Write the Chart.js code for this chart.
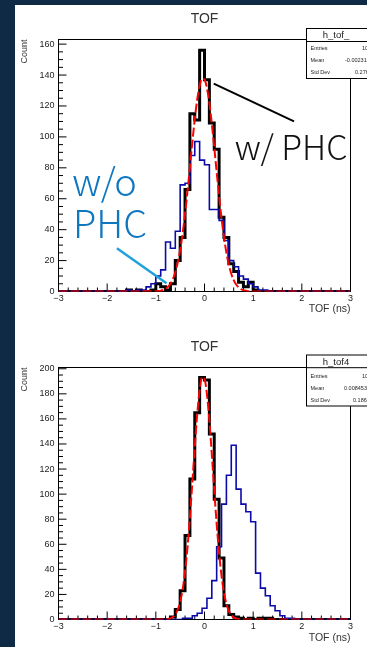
<!DOCTYPE html>
<html>
<head>
<meta charset="utf-8">
<title>TOF</title>
<script src="https://cdn.jsdelivr.net/npm/chart.js@4.4.1/dist/chart.umd.min.js"></script>
<style>
  html, body { margin: 0; padding: 0; background: #0f2a44; width: 367px; height: 647px; overflow: hidden; }
  #page { position: absolute; left: 15px; top: 5px; width: 352px; height: 642px; background: #fff; }
  canvas { position: absolute; left: 0; }
  #tofTop { top: 0; }
  #tofBottom { top: 323px; }
</style>
</head>
<body>
<div id="page"></div>
<canvas id="tofTop" width="367" height="323"></canvas>
<canvas id="tofBottom" width="367" height="324"></canvas>
<script>
// bins are 0.1 ns wide, counts start at the given left edge
const BIN_W = 0.1;

// upper pad: h_tof_
const topPhcStart = -1.6;
const topPhc = [1, 0, 1, 0, 0, 1, 5, 3, 1, 5, 20, 35, 66, 115, 111, 156, 137, 109, 92, 48, 35, 18, 13, 6, 3, 6, 1, 0];
const topRawStart = -1.6;
const topRaw = [1, 0, 1, 1, 3, 5, 10, 14, 32, 28, 39, 69, 70, 88, 97, 85, 82, 53, 53, 46, 33, 20, 16, 10, 8, 5, 3, 1, 1];
const topYLabels = [0, 20, 40, 60, 80, 100, 120, 140, 160];

// lower pad: h_tof4 (the w/o PHC histogram is shifted by half a bin)
const botPhcStart = -0.8;
const botPhc = [0, 2, 8, 23, 67, 112, 165, 193, 191, 148, 96, 49, 11, 4, 2, 1, 0, 1, 0, 1, 1, 1];
const botRawStart = -0.45;
const botRaw = [1, 1, 3, 5, 9, 17, 31, 58, 92, 115, 139, 104, 92, 86, 78, 37, 25, 19, 11, 7, 3, 1, 1];
const botYLabels = [0, 20, 40, 60, 80, 100, 120, 140, 160, 180, 200];

// gaussian fits, read every 0.05 ns from -1.0 to 1.0
const FIT_START = -1.0;
const FIT_STEP = 0.05;
const topFit = [0.13, 0.26, 0.51, 0.96, 1.7, 3.0, 5.0, 8.0, 12.5, 18.7, 26.9, 37.4, 50.1, 64.7, 80.5, 96.5, 111.4, 124.1, 133.1, 137.6,
  137.1, 131.6, 121.8, 108.6, 93.3, 77.3, 61.7, 47.4, 35.1, 25.1, 17.3, 11.5, 7.3, 4.5, 2.7, 1.5, 0.85, 0.45, 0.23, 0.11, 0.05];
const botFit = [0, 0, 0.02, 0.07, 0.17, 0.41, 0.93, 2.0, 4.1, 7.8, 14.0, 23.8, 38.0, 57.4, 81.5, 109.1, 137.5, 163.5, 183.0, 193.1,
  191.9, 179.8, 158.7, 131.9, 103.4, 76.3, 53.1, 34.8, 21.5, 12.5, 6.9, 3.6, 1.7, 0.79, 0.34, 0.14, 0.05, 0.02, 0, 0, 0];

const FONT = '"Liberation Sans", Arial, sans-serif';
const NOTE_FONT = '"Noto Sans CJK JP", "Noto Sans", sans-serif';

// outline of a histogram, flat at zero outside the listed bins
function histPoints(start, counts) {
  const pts = [{ x: -3, y: 0 }];
  counts.forEach((c, i) => pts.push({ x: start + i * BIN_W, y: c }));
  pts.push({ x: start + counts.length * BIN_W, y: 0 });
  pts.push({ x: 3, y: 0 });
  return pts;
}

function fitPoints(values) {
  const pts = [{ x: -3, y: 0 }];
  values.forEach((v, i) => pts.push({ x: FIT_START + i * FIT_STEP, y: v }));
  pts.push({ x: 3, y: 0 });
  return pts;
}

const isWhole = v => Math.abs(v - Math.round(v)) < 1e-6;

// ROOT look: frame, inward ticks, stats box and hand drawn notes
const rootPad = {
  id: 'rootPad',
  beforeDatasetsDraw(chart) {
    const { ctx, chartArea: a, scales: { x, y } } = chart;
    ctx.save();
    ctx.strokeStyle = '#000';
    ctx.lineWidth = 1;
    ctx.strokeRect(a.left, a.top, a.right - a.left, a.bottom - a.top);
    ctx.beginPath();
    x.ticks.forEach(t => {
      const px = x.getPixelForValue(t.value);
      const len = isWhole(t.value) ? 8 : 4;
      ctx.moveTo(px, a.bottom);
      ctx.lineTo(px, a.bottom - len);
    });
    y.ticks.forEach(t => {
      const py = y.getPixelForValue(t.value);
      const len = t.value % 20 ? 4.5 : 8;
      ctx.moveTo(a.left, py);
      ctx.lineTo(a.left + len, py);
    });
    ctx.stroke();
    ctx.restore();
  },
  afterDraw(chart, args, opts) {
    const { ctx, scales: { x, y } } = chart;
    const s = opts.stats;
    ctx.save();
    // stats box
    ctx.fillStyle = '#fff';
    ctx.fillRect(s.left, s.top, 80, s.bottom - s.top);
    ctx.strokeStyle = '#000';
    ctx.lineWidth = 1;
    ctx.strokeRect(s.left, s.top, 80, s.bottom - s.top);
    ctx.beginPath();
    ctx.moveTo(s.left, s.divider);
    ctx.lineTo(s.left + 80, s.divider);
    ctx.stroke();
    ctx.fillStyle = '#222';
    ctx.textBaseline = 'middle';
    ctx.textAlign = 'center';
    ctx.font = '9.5px ' + FONT;
    ctx.fillText(s.name, s.nameX, s.nameY);
    ctx.textAlign = 'left';
    ctx.font = '5.5px ' + FONT;
    s.rows.forEach(r => {
      ctx.fillText(r[0], s.left + 4, r[3]);
      ctx.fillText(r[1], r[2], r[3]);
    });
    // annotations, anchored in data coordinates
    (opts.notes || []).forEach(n => {
      if (n.text) {
        ctx.fillStyle = n.color;
        ctx.font = n.font;
        ctx.textAlign = 'left';
        ctx.textBaseline = 'alphabetic';
        ctx.fillText(n.text, x.getPixelForValue(n.at[0]), y.getPixelForValue(n.at[1]));
      } else {
        ctx.strokeStyle = n.color;
        ctx.lineWidth = n.width;
        ctx.beginPath();
        ctx.moveTo(x.getPixelForValue(n.from[0]), y.getPixelForValue(n.from[1]));
        ctx.lineTo(x.getPixelForValue(n.to[0]), y.getPixelForValue(n.to[1]));
        ctx.stroke();
      }
    });
    ctx.restore();
  }
};

function makeChart(id, cfg) {
  const yLabels = cfg.yLabels;
  const yTop = yLabels[yLabels.length - 1];
  return new Chart(document.getElementById(id), {
    type: 'line',
    data: {
      datasets: [
        { label: 'fit', data: fitPoints(cfg.fit), borderColor: '#ff0000', borderWidth: 2, borderDash: [9, 3], cubicInterpolationMode: 'monotone', order: 0 },
        { label: 'w/o PHC', data: histPoints(cfg.rawStart, cfg.raw), borderColor: '#0a0aa8', borderWidth: 1.6, stepped: 'before', order: 1 },
        { label: 'w/ PHC', data: histPoints(cfg.phcStart, cfg.phc), borderColor: '#000000', borderWidth: 3, stepped: 'before', order: 2 }
      ]
    },
    options: {
      responsive: false,
      animation: false,
      elements: { point: { radius: 0 }, line: { fill: false } },
      layout: { padding: { left: 0, right: 16.5, top: 0, bottom: 0 } },
      plugins: {
        legend: { display: false },
        tooltip: { enabled: false },
        title: {
          display: true, text: 'TOF', fullSize: false, color: '#333',
          font: { family: FONT, size: 14, weight: 'normal' },
          padding: { top: cfg.titleTop, bottom: cfg.titleBottom }
        },
        rootPad: { stats: cfg.stats, notes: cfg.notes }
      },
      scales: {
        x: {
          type: 'linear', min: -3, max: 3,
          grid: { display: false, drawTicks: false },
          border: { display: false },
          ticks: {
            stepSize: 0.2, autoSkip: false, maxRotation: 0, padding: 2, color: '#222',
            font: { family: FONT, size: 9 },
            callback: v => isWhole(v) ? String(Math.round(v)).replace('-', '\u2212') : ''
          },
          title: {
            display: true, text: 'TOF (ns)', align: 'end', color: '#333',
            font: { family: FONT, size: 10.5 },
            padding: { top: 0, bottom: cfg.xTitlePad }
          },
          afterFit: s => { s.height = cfg.xAxisH; }
        },
        y: {
          type: 'linear', min: 0, max: cfg.yMax,
          grid: { display: false, drawTicks: false },
          border: { display: false },
          // labelled ticks every 20, unlabelled ones every 5 in between
          afterBuildTicks: s => {
            const ticks = [];
            for (let v = 0; v <= yTop; v += 5) ticks.push({ value: v });
            s.ticks = ticks;
          },
          ticks: {
            autoSkip: false, padding: 4, color: '#222',
            font: { family: FONT, size: 9 },
            callback: v => (yLabels.includes(v) ? String(v) : '')
          },
          title: {
            display: true, text: 'Count', align: 'end', color: '#333',
            font: { family: FONT, size: 9 },
            padding: { top: 19.6, bottom: 0 }
          },
          afterFit: s => { s.width = 58.5; }
        }
      }
    },
    plugins: [rootPad]
  });
}

makeChart('tofTop', {
  phcStart: topPhcStart, phc: topPhc, rawStart: topRawStart, raw: topRaw, fit: topFit, yLabels: topYLabels,
  yMax: 163, titleTop: 10.7, titleBottom: 12, xAxisH: 31.5, xTitlePad: 7.4,
  stats: {
    name: 'h_tof_', left: 306.5, top: 28.5, divider: 41.5, bottom: 78.5, nameX: 336, nameY: 35,
    rows: [['Entries', '1000', 362, 48.5], ['Mean', '-0.002316', 345, 60.5], ['Std Dev', '0.2767', 355, 72.5]]
  },
  notes: [
    { from: [0.19, 134.5], to: [1.84, 110], color: '#000', width: 2 },
    { text: 'w/ PHC', at: [0.62, 85], color: '#111', font: '300 34px ' + NOTE_FONT },
    { from: [-1.8, 28], to: [-0.78, 5.4], color: '#1fa2dc', width: 2.5 },
    { text: 'w/o', at: [-2.72, 62], color: '#0f77c0', font: '300 38px ' + NOTE_FONT },
    { text: 'PHC', at: [-2.7, 34.5], color: '#0f77c0', font: '300 38px ' + NOTE_FONT }
  ]
});

makeChart('tofBottom', {
  phcStart: botPhcStart, phc: botPhc, rawStart: botRawStart, raw: botRaw, fit: botFit, yLabels: botYLabels,
  yMax: 201, titleTop: 15.3, titleBottom: 12.4, xAxisH: 27.5, xTitlePad: 3,
  stats: {
    name: 'h_tof4', left: 306.5, top: 32, divider: 44.7, bottom: 83, nameX: 336, nameY: 39,
    rows: [['Entries', '1000', 362, 53], ['Mean', '0.008453', 344, 65.3], ['Std Dev', '0.1861', 353, 77.7]]
  },
  notes: []
});
</script>
</body>
</html>
